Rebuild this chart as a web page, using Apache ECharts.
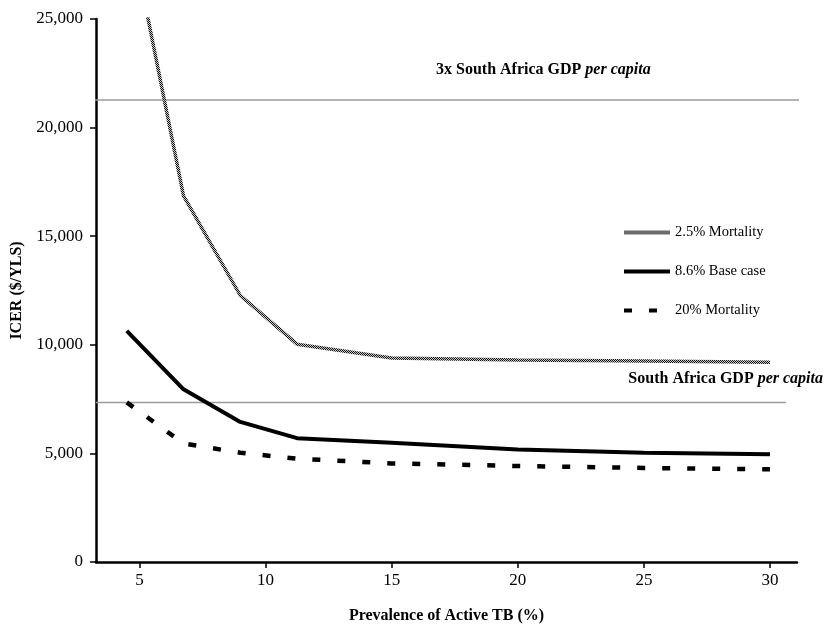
<!DOCTYPE html>
<html>
<head>
<meta charset="utf-8">
<script src="https://cdn.jsdelivr.net/npm/echarts@6/dist/echarts.min.js"></script>
<style>html,body{margin:0;padding:0;background:#fff}#c{width:827px;height:629px}</style>
</head>
<body>
<div id="c"></div>
<script>
// ---- data ----
var prevalence = [4.5, 6.75, 9, 11.25, 15, 20, 25, 30];
var mortality25 = [29900, 16860, 12270, 10030, 9390, 9300, 9250, 9200];
var baseCase86 = [10640, 7950, 6450, 5700, 5490, 5180, 5030, 4960];
var mortality20 = [7350, 5455, 5030, 4755, 4540, 4420, 4330, 4270];
var gdpPerCapita = 7340;
var gdp3x = 21270;
var gdpLineX = [3.28, 30.63];
var gdp3xLineX = [3.2, 31.39];
var xTicks = [5, 10, 15, 20, 25, 30];
var seriesNames = ['2.5% Mortality', '8.6% Base case', '20% Mortality'];

function pairs(xs, ys) { return xs.map(function (x, i) { return [x, ys[i]]; }); }

// checkered pattern for 2.5% line
var pc = document.createElement('canvas');
pc.width = 2; pc.height = 2;
var pctx = pc.getContext('2d');
pctx.fillStyle = '#c8c8c8'; pctx.fillRect(0, 0, 2, 2);
pctx.fillStyle = '#111'; pctx.fillRect(0, 0, 1, 1); pctx.fillRect(1, 1, 1, 1);

var FONT = 'Liberation Serif';
var chart = echarts.init(document.getElementById('c'));
chart.setOption({
  animation: false,
  backgroundColor: '#fff',
  grid: { left: 96, right: 30, top: 19, bottom: 64 },
  legend: {
    orient: 'vertical', left: 622, top: 225, padding: 0,
    itemWidth: 46, itemHeight: 14, itemGap: 24,
    data: seriesNames,
    itemStyle: { opacity: 0 },
    lineStyle: { width: 4 },
    textStyle: { fontFamily: FONT, fontSize: 14.5, color: '#000' }
  },
  xAxis: {
    type: 'value', min: 3.28, max: 31.07,
    name: 'Prevalence of Active TB (%)', nameLocation: 'middle', nameGap: 46,
    nameTextStyle: { fontFamily: FONT, fontSize: 16, fontWeight: 'bold', color: '#000' },
    axisLine: { show: true, lineStyle: { color: '#000', width: 2.5 } },
    axisTick: { show: true, customValues: xTicks, length: 6, lineStyle: { color: '#000', width: 1.5 } },
    axisLabel: { customValues: xTicks, margin: 10, fontFamily: FONT, fontSize: 17, color: '#000' },
    splitLine: { show: false }
  },
  yAxis: {
    type: 'value', min: 0, max: 25000, interval: 5000,
    name: 'ICER ($/YLS)', nameLocation: 'middle', nameGap: 64,
    nameTextStyle: { fontFamily: FONT, fontSize: 16, fontWeight: 'bold', color: '#000' },
    axisLine: { show: true, lineStyle: { color: '#000', width: 2.5 } },
    axisTick: { show: true, length: 6, lineStyle: { color: '#000', width: 1.5 } },
    axisLabel: {
      margin: 13, fontFamily: FONT, fontSize: 17, color: '#000',
      formatter: function (v) { return v.toLocaleString('en-US'); }
    },
    splitLine: { show: false }
  },
  graphic: [
    {
      type: 'text', left: 436, top: 62, silent: true,
      style: {
        text: '{b|3x South Africa GDP }{i|per capita}',
        rich: {
          b: { fontFamily: FONT, fontSize: 16, fontWeight: 'bold', fill: '#000' },
          i: { fontFamily: FONT, fontSize: 16, fontWeight: 'bold', fontStyle: 'italic', fill: '#000' }
        }
      }
    },
    {
      type: 'text', right: 4, top: 371, silent: true,
      style: {
        text: '{b|South Africa GDP }{i|per capita}',
        rich: {
          b: { fontFamily: FONT, fontSize: 16, fontWeight: 'bold', fill: '#000' },
          i: { fontFamily: FONT, fontSize: 16, fontWeight: 'bold', fontStyle: 'italic', fill: '#000' }
        }
      }
    }
  ],
  series: [
    {
      name: 'gdp3x', type: 'line', data: pairs(gdp3xLineX, [gdp3x, gdp3x]),
      symbol: 'none', clip: false, silent: true, z: 1,
      lineStyle: { color: '#9a9a9a', width: 1.5 }
    },
    {
      name: 'gdp', type: 'line', data: pairs(gdpLineX, [gdpPerCapita, gdpPerCapita]),
      symbol: 'none', clip: false, silent: true, z: 1,
      lineStyle: { color: '#9a9a9a', width: 1.5 }
    },
    {
      name: seriesNames[0], type: 'line', data: pairs(prevalence, mortality25),
      symbol: 'none', clip: true,
      lineStyle: { color: { image: pc, repeat: 'repeat' }, width: 3.5 },
      itemStyle: { color: '#555' }
    },
    {
      name: seriesNames[1], type: 'line', data: pairs(prevalence, baseCase86),
      symbol: 'none',
      lineStyle: { color: '#000', width: 4 },
      itemStyle: { color: '#000' }
    },
    {
      name: seriesNames[2], type: 'line', data: pairs(prevalence, mortality20),
      symbol: 'none',
      lineStyle: { color: '#000', width: 4.5, type: [8, 17], cap: 'butt' },
      itemStyle: { color: '#000' }
    }
  ]
});
</script>
</body>
</html>
